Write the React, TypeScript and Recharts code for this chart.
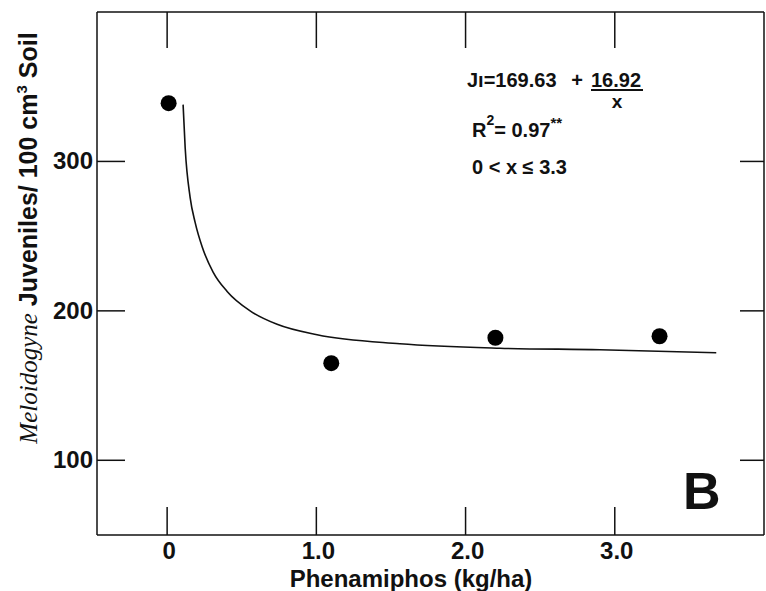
import { ComposedChart, Line, Scatter, XAxis, YAxis } from 'recharts';

// x ticks (kg/ha) and y ticks (juveniles)
const xTicks = [0, 1, 2, 3];
const yTicks = [100, 200, 300];

// observed means
const doseObs = [0.01, 1.1, 2.2, 3.3];
const juvObs = [339, 165, 182, 183];

// fitted curve
const doseFit = [0.107, 0.121, 0.154, 0.188, 0.234, 0.308, 0.402, 0.556, 0.737, 1.005, 1.56, 2.23, 2.9, 3.68];
const juvFit = [338, 309, 276, 259, 243, 226, 213, 200, 191, 184, 178, 175, 174, 172];

const obsData = doseObs.map((x, i) => ({ x, y: juvObs[i] }));
const fitData = doseFit.map((x, i) => ({ x, y: juvFit[i] }));

const SANS = '"Liberation Sans", Arial, sans-serif';
const INK = '#111';

function fmtX(v: number) {
    return v === 0 ? '0' : v.toFixed(1);
}

function BottomTick({ x, y, payload }: any) {
    return (
        <g>
            <line x1={x} x2={x} y1={y} y2={y - 28} stroke={INK} strokeWidth={1.5} />
            <text x={x + 2} y={y + 24} textAnchor="middle" fontSize={24} fontWeight="bold" fontFamily={SANS} fill={INK}>
                {fmtX(payload.value)}
            </text>
        </g>
    );
}

function TopTick({ x, y }: any) {
    return <line x1={x} x2={x} y1={y} y2={y + 36} stroke={INK} strokeWidth={1.5} />;
}

function LeftTick({ x, y, payload }: any) {
    return (
        <g>
            <line x1={x} x2={x + 28} y1={y} y2={y} stroke={INK} strokeWidth={1.5} />
            <text x={x - 4} y={y + 8} textAnchor="end" fontSize={24} fontWeight="bold" fontFamily={SANS} fill={INK}>
                {payload.value}
            </text>
        </g>
    );
}

function RightTick({ x, y }: any) {
    return <line x1={x} x2={x - 24} y1={y} y2={y} stroke={INK} strokeWidth={1.5} />;
}

function Dot({ cx, cy }: any) {
    return <circle cx={cx} cy={cy} r={8} fill="#000" />;
}

const axisLine = { stroke: INK, strokeWidth: 1.5 };

export default function App() {
    return (
        <div style={{ position: 'absolute', left: 0, top: 0, width: 766, height: 591, background: '#fff' }}>
            <ComposedChart width={766} height={591} margin={{ top: 11, right: 1, bottom: 55, left: 96 }}>
                <XAxis
                    xAxisId="b" type="number" dataKey="x" orientation="bottom" height={1}
                    domain={[-0.47, 4]} ticks={xTicks} interval={0} allowDataOverflow
                    tickSize={0} tickMargin={0} axisLine={axisLine} tickLine={false} tick={<BottomTick />}
                />
                <XAxis
                    xAxisId="t" type="number" dataKey="x" orientation="top" height={1}
                    domain={[-0.47, 4]} ticks={xTicks} interval={0} allowDataOverflow
                    tickSize={0} tickMargin={0} axisLine={axisLine} tickLine={false} tick={<TopTick />}
                />
                <YAxis
                    yAxisId="l" type="number" dataKey="y" orientation="left" width={1}
                    domain={[50, 400]} ticks={yTicks} interval={0} allowDataOverflow
                    tickSize={0} tickMargin={0} axisLine={axisLine} tickLine={false} tick={<LeftTick />}
                />
                <YAxis
                    yAxisId="r" type="number" dataKey="y" orientation="right" width={1}
                    domain={[50, 400]} ticks={yTicks} interval={0} allowDataOverflow
                    tickSize={0} tickMargin={0} axisLine={axisLine} tickLine={false} tick={<RightTick />}
                />
                <Line
                    xAxisId="b" yAxisId="l" data={fitData} dataKey="y" type="monotone"
                    stroke={INK} strokeWidth={1.6} dot={false} isAnimationActive={false}
                />
                <Scatter xAxisId="b" yAxisId="l" data={obsData} dataKey="y" shape={<Dot />} isAnimationActive={false} />
                <Scatter xAxisId="t" yAxisId="r" data={obsData} dataKey="y" shape={() => null} isAnimationActive={false} />
            </ComposedChart>

            <svg width={766} height={591} style={{ position: 'absolute', left: 0, top: 0, pointerEvents: 'none' }}>
                {/* y axis title */}
                <text transform="rotate(-90)" x={-238} y={37} textAnchor="middle" fill={INK} fontSize={25}>
                    <tspan fontFamily='"Liberation Serif", "Times New Roman", serif' fontStyle="italic">Meloidogyne</tspan>
                    <tspan fontFamily={SANS} fontWeight="bold"> Juveniles/ 100 cm</tspan>
                    <tspan fontFamily={SANS} fontWeight="bold" fontSize={15} dy={-10}>3</tspan>
                    <tspan fontFamily={SANS} fontWeight="bold" dy={10}> Soil</tspan>
                </text>

                {/* x axis title */}
                <text x={411} y={587} textAnchor="middle" fontSize={24} fontWeight="bold" fontFamily={SANS} fill={INK}>
                    Phenamiphos (kg/ha)
                </text>

                {/* regression annotation */}
                <g fontFamily={SANS} fontWeight="bold" fill={INK}>
                    <text x={467} y={87} fontSize={20}>Jı=169.63</text>
                    <text x={577} y={87} fontSize={20} textAnchor="middle">+</text>
                    <text x={591} y={87} fontSize={20}>16.92</text>
                    <line x1={591} x2={643} y1={90} y2={90} stroke={INK} strokeWidth={2} />
                    <text x={617} y={108} fontSize={19} textAnchor="middle">x</text>

                    <text x={472} y={137} fontSize={20}>
                        R<tspan fontSize={14} dy={-12}>2</tspan>
                        <tspan dy={12}>= 0.97</tspan>
                        <tspan fontSize={15} dy={-9}>**</tspan>
                    </text>

                    <text x={472} y={174} fontSize={20}>0 &lt; x ≤  3.3</text>

                    <text x={683} y={509} fontSize={52}>B</text>
                </g>
            </svg>
        </div>
    );
}
